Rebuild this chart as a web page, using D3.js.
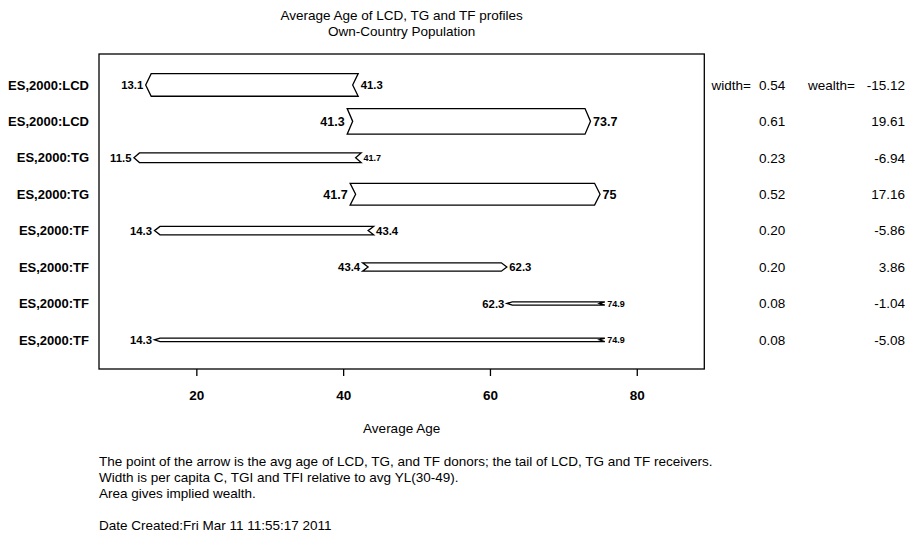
<!DOCTYPE html>
<html>
<head>
<meta charset="utf-8">
<script src="https://cdn.jsdelivr.net/npm/d3@7"></script>
<style>
  body { margin: 0; background: #fff; }
  svg { font-family: "Liberation Sans", Arial, Helvetica, sans-serif; }
</style>
</head>
<body>
<script>
// rows of the chart, top to bottom
var rowLabels = ['ES,2000:LCD', 'ES,2000:LCD', 'ES,2000:TG', 'ES,2000:TG',
                 'ES,2000:TF', 'ES,2000:TF', 'ES,2000:TF', 'ES,2000:TF'];
// tail = avg age of receivers, head = avg age of donors (arrow point)
var tails  = [41.3, 41.3, 41.7, 41.7, 43.4, 43.4, 74.9, 74.9];
var heads  = [13.1, 73.7, 11.5, 75, 14.3, 62.3, 62.3, 14.3];
var widths = [0.54, 0.61, 0.23, 0.52, 0.20, 0.20, 0.08, 0.08];
var wealth = [-15.12, 19.61, -6.94, 17.16, -5.86, 3.86, -1.04, -5.08];
var xTicks = [20, 40, 60, 80];

var titleLines = ['Average Age of LCD, TG and TF profiles', 'Own-Country Population'];
var notes = ['The point of the arrow is the avg age of LCD, TG, and TF donors; the tail of LCD, TG and TF receivers.',
             'Width is per capita C, TGI and TFI relative to avg YL(30-49).',
             'Area gives implied wealth.'];
var dateLine = 'Date Created:Fri Mar 11 11:55:17 2011';

// label font sizes: tail labels that were squeezed are small,
// the two widest right-pointing arrows carry larger labels
var smallTailLabels = [2, 6, 7];
var bigLabelRows = [1, 3];

var W = 912, H = 534;
var box = {left: 99, right: 704.3, top: 54, bottom: 369};
var fs = 13.5;

var svg = d3.select('body').append('svg')
    .attr('width', W)
    .attr('height', H);

var x = d3.scaleLinear().domain([6.74, 89.2]).range([box.left, box.right]);
var y = d3.scaleLinear().domain([0.15, 8.8]).range([box.top, box.bottom]);

// title
svg.selectAll('text.title')
    .data(titleLines)
    .enter().append('text')
        .attr('class', 'title')
        .attr('x', (box.left + box.right) / 2)
        .attr('y', function(d, i) { return 19.8 + i*16; })
        .attr('text-anchor', 'middle')
        .style('font-size', fs + 'px')
        .text(function(d) { return d; });

// plot frame
svg.append('rect')
    .attr('x', box.left)
    .attr('y', box.top)
    .attr('width', box.right - box.left)
    .attr('height', box.bottom - box.top)
    .attr('fill', 'none')
    .attr('stroke', '#000')
    .attr('stroke-width', 1.3);

// x axis
var axis = svg.append('g')
    .attr('transform', 'translate(0,' + box.bottom + ')')
    .call(d3.axisBottom(x).tickValues(xTicks).tickSize(7).tickPadding(14.2));
axis.select('.domain').remove();
axis.selectAll('line').attr('stroke-width', 1.3);
axis.selectAll('text')
    .attr('font-family', null)
    .style('font-size', fs + 'px')
    .style('font-weight', 'bold');

svg.append('text')
    .attr('x', (box.left + box.right) / 2)
    .attr('y', 432.8)
    .attr('text-anchor', 'middle')
    .style('font-size', fs + 'px')
    .text('Average Age');

// row labels
svg.selectAll('text.row')
    .data(rowLabels)
    .enter().append('text')
        .attr('class', 'row')
        .attr('x', 89)
        .attr('y', function(d, i) { return y(i + 1) + 4.7; })
        .attr('text-anchor', 'end')
        .style('font-size', '13px')
        .style('font-weight', 'bold')
        .text(function(d) { return d; });

/*
 * Arrows: a band from tail to head, notched at the tail
 * and pointed at the head; height is proportional to width.
 */
var depth = 5.5;
var rows = d3.range(rowLabels.length).map(function(i) {
    return {i: i, tail: tails[i], head: heads[i], w: widths[i]};
});

var g = svg.selectAll('g.arrow')
    .data(rows)
    .enter().append('g')
        .attr('class', 'arrow');

g.append('polygon')
    .attr('points', function(d) {
        var yc = y(d.i + 1),
            h = (y(d.w * 1.15) - y(0)) / 2,
            tx = x(d.tail),
            hx = x(d.head),
            dir = hx > tx ? 1 : -1;
        return [
            [tx - dir*depth, yc - h],
            [hx - dir*depth, yc - h],
            [hx, yc],
            [hx - dir*depth, yc + h],
            [tx - dir*depth, yc + h],
            [tx, yc]
        ].map(function(p) { return p.join(','); }).join(' ');
    })
    .attr('fill', '#fff')
    .attr('stroke', '#000')
    .attr('stroke-width', 1.3)
    .attr('stroke-linejoin', 'miter');

// value labels at both ends
g.each(function(d) {
    var tx = x(d.tail), hx = x(d.head),
        dir = hx > tx ? 1 : -1,
        yc = y(d.i + 1),
        base = bigLabelRows.indexOf(d.i) >= 0 ? 12.5 : 11.3,
        ends = [
            {v: d.tail, px: tx - dir*depth, side: -dir,
             size: smallTailLabels.indexOf(d.i) >= 0 ? 9 : base},
            {v: d.head, px: hx, side: dir, size: base}
        ];
    d3.select(this).selectAll('text')
        .data(ends)
        .enter().append('text')
            .attr('x', function(e) { return e.px + e.side*2.5; })
            .attr('y', function(e) { return yc + e.size*0.36; })
            .attr('text-anchor', function(e) { return e.side > 0 ? 'start' : 'end'; })
            .style('font-size', function(e) { return e.size + 'px'; })
            .style('font-weight', 'bold')
            .text(function(e) { return e.v; });
});

// width / wealth columns on the right
svg.append('text')
    .attr('x', 711.5).attr('y', y(1) + 4.8)
    .style('font-size', fs + 'px')
    .text('width=');
svg.append('text')
    .attr('x', 808).attr('y', y(1) + 4.8)
    .style('font-size', fs + 'px')
    .text('wealth=');

svg.selectAll('text.wid')
    .data(widths)
    .enter().append('text')
        .attr('class', 'wid')
        .attr('x', 759)
        .attr('y', function(d, i) { return y(i + 1) + 4.8; })
        .style('font-size', fs + 'px')
        .text(function(d) { return d.toFixed(2); });

svg.selectAll('text.wea')
    .data(wealth)
    .enter().append('text')
        .attr('class', 'wea')
        .attr('x', 905)
        .attr('y', function(d, i) { return y(i + 1) + 4.8; })
        .attr('text-anchor', 'end')
        .style('font-size', fs + 'px')
        .text(function(d) { return d.toFixed(2); });

// notes under the plot
svg.selectAll('text.note')
    .data(notes)
    .enter().append('text')
        .attr('class', 'note')
        .attr('x', 99)
        .attr('y', function(d, i) { return 465.8 + i*16; })
        .style('font-size', fs + 'px')
        .text(function(d) { return d; });

svg.append('text')
    .attr('x', 99)
    .attr('y', 529.8)
    .style('font-size', fs + 'px')
    .text(dateLine);
</script>
</body>
</html>
